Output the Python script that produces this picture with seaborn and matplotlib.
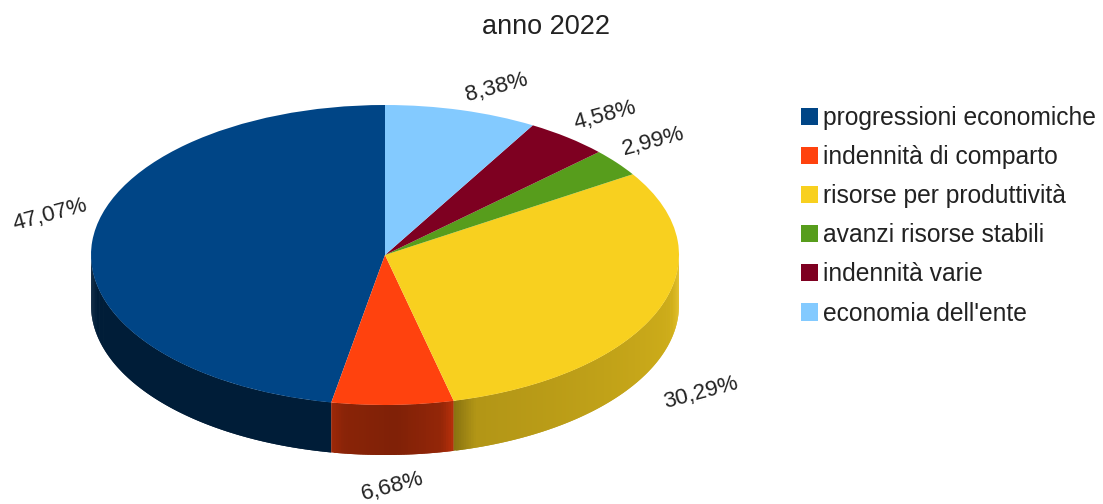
import numpy as np
import matplotlib
matplotlib.use("Agg")

import matplotlib.pyplot as plt
import seaborn as sns
from matplotlib.collections import PolyCollection

categories = ["progressioni economiche", "indennità di comparto", "risorse per produttività",
              "avanzi risorse stabili", "indennità varie", "economia dell'ente"]
values = [47.07, 6.68, 30.29, 2.99, 4.58, 8.38]
colors = ["#004586", "#ff420e", "#f8d01f", "#579d1c", "#7e0021", "#83caff"]

# layout, in pixels of the 1103x504 picture
CX, CY, RX, RY, DEPTH = 385, 255, 294, 150, 50
LABEL_POS = [(50, 215), (393, 487), (701, 393), (653, 142), (605, 116), (497, 88)]

sns.set_theme(style="white")
plt.rcParams["font.family"] = ["Liberation Sans", "DejaVu Sans"]
palette = sns.color_palette(colors)

fig = plt.figure(figsize=(11.03, 5.04), dpi=100)
bg = fig.add_axes([0, 0, 1, 1])
bg.set_xlim(0, 1103)
bg.set_ylim(504, 0)
bg.axis("off")

# side wall, only the front half of the disc shows
shade_angle = [180, 259.4, 259.5, 262, 272, 281, 283.4, 283.6, 288, 320, 345, 360]
shade_value = [0.42, 0.42, 0.62, 0.54, 0.50, 0.58, 0.72, 0.55, 0.72, 0.78, 0.83, 0.93]

start = 90.0
for val, col in zip(values, palette):
    end = start + val * 3.6
    lo, hi = max(start, 180), min(end, 360)
    if hi > lo:
        edges = np.arange(lo, hi, 0.5)
        polys, cols = [], []
        for a0 in edges:
            # strips overlap a little so no seams show
            a1 = min(a0 + 1.0, hi)
            x0, x1 = CX + RX * np.cos(np.radians([a0, a1]))
            y0, y1 = CY - RY * np.sin(np.radians([a0, a1]))
            polys.append([(x0, y0), (x1, y1), (x1, y1 + DEPTH), (x0, y0 + DEPTH)])
            s = np.interp(a0 + 0.25, shade_angle, shade_value)
            cols.append(tuple(np.array(col) * s))
        bg.add_collection(PolyCollection(polys, facecolors=cols, edgecolors="none", linewidths=0))
    start = end

# top of the disc: a normal pie in an axes squashed to the ellipse
ax = fig.add_axes([(CX - RX) / 1103, 1 - (CY + RY) / 504, 2 * RX / 1103, 2 * RY / 504])
wedges, _ = ax.pie(values, colors=palette, startangle=90, counterclock=True, radius=1,
                   wedgeprops={"linewidth": 0})
ax.set_aspect("auto")
ax.set_xlim(-1, 1)
ax.set_ylim(-1, 1)
ax.patch.set_alpha(0)

text_col = "#222222"
for val, (x, y) in zip(values, LABEL_POS):
    bg.text(x, y, f"{val:.2f}%".replace(".", ","), rotation=15, fontsize=16.2, color=text_col,
            ha="center", va="center", rotation_mode="anchor", zorder=5)

fig.text(546 / 1103, 1 - 27 / 504, "anno 2022", fontsize=19.5, color=text_col, ha="center", va="center")

fig.legend(wedges, categories, loc="upper left", bbox_to_anchor=(801 / 1103, 1 - 106 / 504),
           frameon=False, fontsize=17.7, handlelength=0.7, handleheight=0.7, handletextpad=0.2,
           labelspacing=0.615, borderpad=0, borderaxespad=0, labelcolor=text_col)

fig.savefig("out.png", dpi=100)
